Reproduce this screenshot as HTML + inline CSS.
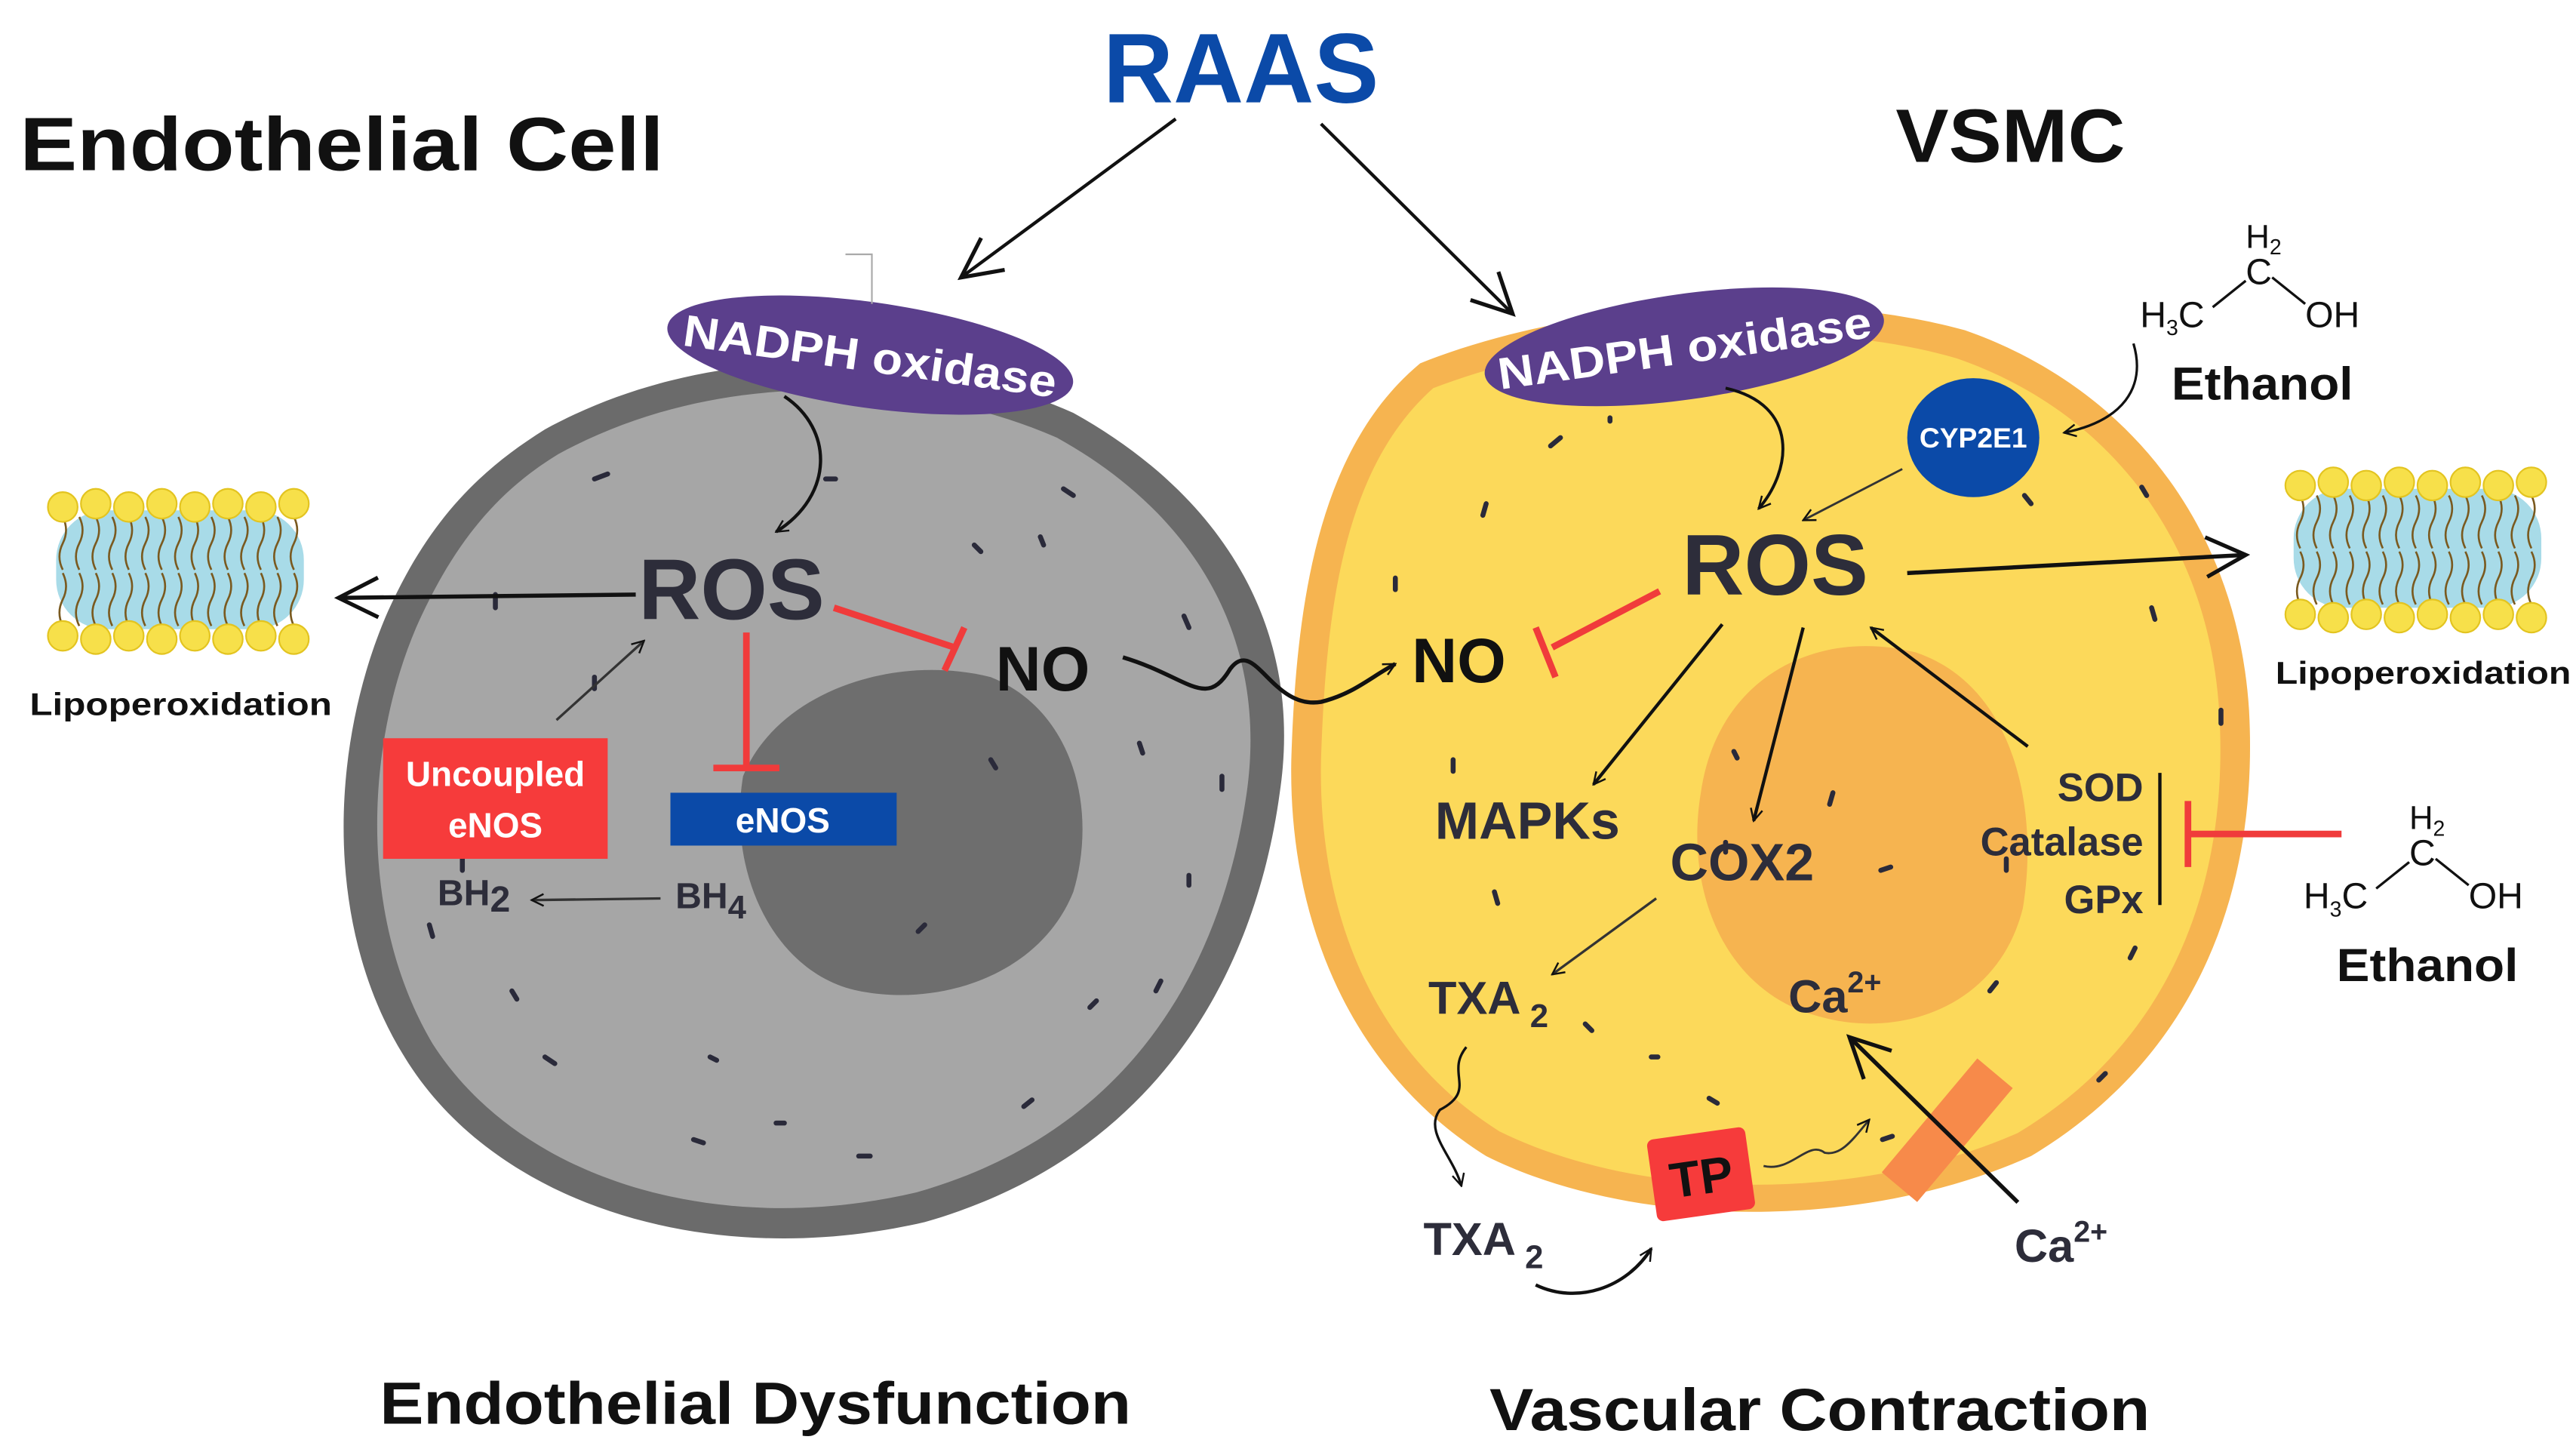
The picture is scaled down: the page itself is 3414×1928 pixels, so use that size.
<!DOCTYPE html>
<html><head><meta charset="utf-8"><style>
html,body{margin:0;padding:0;background:#fff;width:3414px;height:1928px;overflow:hidden}
svg{display:block}
text{font-family:"Liberation Sans",sans-serif;font-weight:bold}
text.n{font-weight:normal}
</style></head><body>
<svg width="3414" height="1928" viewBox="0 0 1560 881" preserveAspectRatio="none" xmlns="http://www.w3.org/2000/svg">
<defs>
<marker id="a" viewBox="0 0 20 20" refX="18" refY="10" markerWidth="9" markerHeight="9" markerUnits="userSpaceOnUse" orient="auto"><path d="M2 2 L18 10 L2 18" fill="none" stroke="#111" stroke-width="2.5"/></marker>
<marker id="b" viewBox="0 0 20 20" refX="18" refY="10" markerWidth="30" markerHeight="30" markerUnits="userSpaceOnUse" orient="auto"><path d="M2 2 L18 10 L2 18" fill="none" stroke="#111" stroke-width="1.6"/></marker>
<g id="mem">
<rect x="6" y="14" width="150" height="72" rx="30" fill="#a8dbe8"/>
<g stroke="#7a5a20" stroke-width="1.2" fill="none">
<path d="M10 18 q4 8 0 16 q-4 8 0 16 M20 18 q4 8 0 16 q-4 8 0 16 M30 18 q4 8 0 16 q-4 8 0 16 M40 18 q4 8 0 16 q-4 8 0 16 M50 18 q4 8 0 16 q-4 8 0 16 M60 18 q4 8 0 16 q-4 8 0 16 M70 18 q4 8 0 16 q-4 8 0 16 M80 18 q4 8 0 16 q-4 8 0 16 M90 18 q4 8 0 16 q-4 8 0 16 M100 18 q4 8 0 16 q-4 8 0 16 M110 18 q4 8 0 16 q-4 8 0 16 M120 18 q4 8 0 16 q-4 8 0 16 M130 18 q4 8 0 16 q-4 8 0 16 M140 18 q4 8 0 16 q-4 8 0 16 M150 18 q4 8 0 16 q-4 8 0 16"/>
<path d="M10 52 q4 8 0 16 q-4 8 0 16 M20 52 q4 8 0 16 q-4 8 0 16 M30 52 q4 8 0 16 q-4 8 0 16 M40 52 q4 8 0 16 q-4 8 0 16 M50 52 q4 8 0 16 q-4 8 0 16 M60 52 q4 8 0 16 q-4 8 0 16 M70 52 q4 8 0 16 q-4 8 0 16 M80 52 q4 8 0 16 q-4 8 0 16 M90 52 q4 8 0 16 q-4 8 0 16 M100 52 q4 8 0 16 q-4 8 0 16 M110 52 q4 8 0 16 q-4 8 0 16 M120 52 q4 8 0 16 q-4 8 0 16 M130 52 q4 8 0 16 q-4 8 0 16 M140 52 q4 8 0 16 q-4 8 0 16 M150 52 q4 8 0 16 q-4 8 0 16"/>
</g>
<g fill="#f7e04a" stroke="#e3c420" stroke-width="1">
<circle cx="10" cy="12" r="9"/><circle cx="30" cy="10" r="9"/><circle cx="50" cy="12" r="9"/><circle cx="70" cy="10" r="9"/><circle cx="90" cy="12" r="9"/><circle cx="110" cy="10" r="9"/><circle cx="130" cy="12" r="9"/><circle cx="150" cy="10" r="9"/>
<circle cx="10" cy="90" r="9"/><circle cx="30" cy="92" r="9"/><circle cx="50" cy="90" r="9"/><circle cx="70" cy="92" r="9"/><circle cx="90" cy="90" r="9"/><circle cx="110" cy="92" r="9"/><circle cx="130" cy="90" r="9"/><circle cx="150" cy="92" r="9"/>
</g></g>
<g id="eth">
<text class="n" x="0" y="58" font-size="22" fill="#111">H<tspan font-size="13" dy="5">3</tspan><tspan dy="-5">C</tspan></text>
<text class="n" x="64" y="32" font-size="22" fill="#111">C</text>
<text class="n" x="64" y="10" font-size="20" fill="#111">H<tspan font-size="13" dy="4">2</tspan></text>
<text class="n" x="100" y="58" font-size="22" fill="#111">OH</text>
<path d="M44 46 L64 30 M80 28 L100 44" stroke="#111" stroke-width="1.5"/>
</g>
</defs>

<text x="12" y="103" font-size="46" fill="#111" textLength="390" lengthAdjust="spacingAndGlyphs">Endothelial Cell</text>
<text x="668" y="62" font-size="60" fill="#0b4aa8" textLength="167" lengthAdjust="spacingAndGlyphs">RAAS</text>
<text x="1148" y="98" font-size="46" fill="#111" textLength="139" lengthAdjust="spacingAndGlyphs">VSMC</text>
<text x="230" y="862" font-size="36" fill="#111" textLength="455" lengthAdjust="spacingAndGlyphs">Endothelial Dysfunction</text>
<text x="902" y="866" font-size="36" fill="#111" textLength="400" lengthAdjust="spacingAndGlyphs">Vascular Contraction</text>

<path d="M330 260 C430 205 560 210 650 250 C740 300 790 380 775 480 C760 590 700 700 560 740 C430 770 300 730 245 640 C195 560 200 450 235 370 C260 315 290 285 330 260Z" fill="#6b6b6b"/>
<path d="M338 275 C435 222 555 228 640 265 C725 312 768 388 755 480 C740 585 685 685 555 722 C435 750 315 715 262 632 C218 558 220 455 252 380 C275 328 302 297 338 275Z" fill="#a6a6a6"/>
<path d="M450 470 C470 420 540 395 600 410 C650 430 665 490 650 540 C630 590 570 610 520 600 C470 590 440 530 450 470Z" fill="#6e6e6e"/>
<g stroke="#2a2a3a" stroke-width="3" stroke-linecap="round">
<path d="M360 290 l8 -3 M300 360 l0 8 M270 470 l0 8 M260 560 l2 7 M330 640 l6 4 M420 690 l6 2 M520 700 l7 0 M620 670 l5 -4 M700 600 l3 -6 M740 470 l0 8 M720 380 l-3 -7 M650 300 l-6 -4 M590 330 l4 4 M630 325 l2 5 M500 290 l6 0 M360 410 l0 7 M690 450 l2 6 M600 460 l3 5 M560 560 l-4 4 M430 640 l4 2 M470 680 l5 0 M660 610 l4 -4 M280 520 l0 7 M310 600 l3 5 M720 530 l0 6"/>
</g>

<path d="M860 220 C960 180 1100 175 1190 200 C1290 235 1355 320 1362 430 C1368 540 1330 640 1230 700 C1130 745 990 745 900 700 C820 650 780 560 782 460 C785 360 800 270 860 220Z" fill="#f6b450"/>
<path d="M868 235 C965 198 1100 192 1185 217 C1280 250 1338 330 1344 432 C1350 535 1315 630 1222 686 C1127 728 995 728 908 685 C833 638 798 555 800 460 C803 365 815 282 868 235Z" fill="#fcd95a"/>
<path d="M1030 480 C1040 410 1100 380 1160 395 C1220 415 1235 490 1225 550 C1210 610 1150 630 1100 615 C1045 600 1020 540 1030 480Z" fill="#f6b450"/>
<g stroke="#2a2a3a" stroke-width="3" stroke-linecap="round">
<path d="M945 265 l-6 5 M975 255 l0 -2 M900 305 l-2 7 M845 350 l0 7 M880 460 l0 7 M905 540 l2 7 M960 620 l4 4 M1035 665 l5 3 M1140 690 l6 -2 M1205 600 l4 -5 M1290 580 l3 -6 M1345 430 l0 8 M1305 375 l-2 -7 M1300 300 l-3 -5 M1230 305 l-4 -5 M1110 480 l-2 7 M1045 510 l0 6 M1215 520 l0 7 M1145 525 l-6 2 M1050 455 l2 4 M1275 650 l-4 4 M1000 640 l4 0"/>
</g>

<g transform="rotate(8 527 215)"><ellipse cx="527" cy="215" rx="124" ry="32" fill="#5b3f8c"/><text x="527" y="225" font-size="27" fill="#fff" text-anchor="middle" textLength="228" lengthAdjust="spacingAndGlyphs">NADPH oxidase</text></g>
<g transform="rotate(-8 1020 210)"><ellipse cx="1020" cy="210" rx="122" ry="32" fill="#5b3f8c"/><text x="1020" y="220" font-size="27" fill="#fff" text-anchor="middle" textLength="228" lengthAdjust="spacingAndGlyphs">NADPH oxidase</text></g>
<path d="M512 154 l16 0 l0 30" fill="none" stroke="#aaa" stroke-width="1"/>

<path d="M712 72 L582 168" stroke="#111" stroke-width="2" fill="none" marker-end="url(#b)"/>
<path d="M800 75 L916 190" stroke="#111" stroke-width="2" fill="none" marker-end="url(#b)"/>

<text x="443" y="375" font-size="52" fill="#2d2d3a" text-anchor="middle">ROS</text>
<text x="603" y="418" font-size="38" fill="#111">NO</text>
<path d="M475 240 C505 260 505 300 470 322" stroke="#111" stroke-width="2" fill="none" marker-end="url(#a)"/>
<path d="M385 360 L205 362" stroke="#111" stroke-width="2.5" fill="none" marker-end="url(#b)"/>
<path d="M505 368 L578 392 M584 380 L572 406" stroke="#f03b3b" stroke-width="4" fill="none"/>
<path d="M452 383 L452 465 M432 465 L472 465" stroke="#f03b3b" stroke-width="4" fill="none"/>
<rect x="406" y="480" width="137" height="32" fill="#0b4aa8"/>
<text x="474" y="504" font-size="21" fill="#fff" text-anchor="middle">eNOS</text>
<rect x="232" y="447" width="136" height="73" fill="#f63b3b"/>
<text x="300" y="476" font-size="21" fill="#fff" text-anchor="middle">Uncoupled</text>
<text x="300" y="507" font-size="21" fill="#fff" text-anchor="middle">eNOS</text>
<path d="M337 436 L390 388" stroke="#333" stroke-width="1.5" fill="none" marker-end="url(#a)"/>
<text x="265" y="548" font-size="22" fill="#2d2d3a">BH<tspan font-size="22" dy="4">2</tspan></text>
<text x="409" y="550" font-size="22" fill="#2d2d3a">BH<tspan font-size="20" dy="6">4</tspan></text>
<path d="M400 544 L322 545" stroke="#333" stroke-width="1.5" fill="none" marker-end="url(#a)"/>
<path d="M680 398 C720 410 730 430 745 405 C760 385 770 430 800 425 C820 420 830 410 845 402" stroke="#111" stroke-width="2.5" fill="none" marker-end="url(#a)"/>

<use href="#mem" x="28" y="295"/>
<text x="18" y="433" font-size="19" fill="#111" textLength="183" lengthAdjust="spacingAndGlyphs">Lipoperoxidation</text>
<use href="#mem" x="1383" y="282"/>
<text x="1378" y="414" font-size="19" fill="#111" textLength="179" lengthAdjust="spacingAndGlyphs">Lipoperoxidation</text>

<text x="1075" y="360" font-size="52" fill="#2d2d3a" text-anchor="middle">ROS</text>
<text x="855" y="413" font-size="38" fill="#111">NO</text>
<path d="M1005 358 L940 392 M930 380 L942 410" stroke="#f03b3b" stroke-width="4" fill="none"/>
<ellipse cx="1195" cy="265" rx="40" ry="36" fill="#0b4aa8"/>
<text x="1195" y="271" font-size="17" fill="#fff" text-anchor="middle">CYP2E1</text>
<path d="M1045 235 C1090 245 1085 285 1065 308" stroke="#111" stroke-width="1.8" fill="none" marker-end="url(#a)"/>
<path d="M1152 284 L1092 315" stroke="#333" stroke-width="1.3" fill="none" marker-end="url(#a)"/>
<path d="M1292 208 C1300 235 1285 255 1250 262" stroke="#111" stroke-width="1.5" fill="none" marker-end="url(#a)"/>
<path d="M1155 347 L1360 336" stroke="#111" stroke-width="2.5" fill="none" marker-end="url(#b)"/>
<path d="M1043 378 L965 475" stroke="#111" stroke-width="2" fill="none" marker-end="url(#a)"/>
<path d="M1092 380 L1062 497" stroke="#111" stroke-width="2" fill="none" marker-end="url(#a)"/>
<path d="M1228 452 L1133 380" stroke="#111" stroke-width="2" fill="none" marker-end="url(#a)"/>
<text x="925" y="508" font-size="32" fill="#2d2d3a" text-anchor="middle">MAPKs</text>
<text x="1055" y="533" font-size="32" fill="#2d2d3a" text-anchor="middle">COX2</text>
<text x="1298" y="485" font-size="24" fill="#2d2d3a" text-anchor="end">SOD</text>
<text x="1298" y="518" font-size="24" fill="#2d2d3a" text-anchor="end">Catalase</text>
<text x="1298" y="553" font-size="24" fill="#2d2d3a" text-anchor="end">GPx</text>
<path d="M1308 468 L1308 548" stroke="#111" stroke-width="2"/>
<path d="M1418 505 L1325 505 M1325 485 L1325 525" stroke="#f03b3b" stroke-width="4" fill="none"/>
<path d="M1003 544 L940 590" stroke="#333" stroke-width="1.5" fill="none" marker-end="url(#a)"/>
<text x="865" y="614" font-size="28" fill="#2d2d3a">TXA<tspan font-size="20" dy="8"> 2</tspan></text>
<text x="1083" y="613" font-size="28" fill="#2d2d3a">Ca<tspan font-size="18" dy="-12">2+</tspan></text>
<path d="M888 634 C875 650 895 660 872 672 C862 685 880 700 885 718" stroke="#111" stroke-width="1.5" fill="none" marker-end="url(#a)"/>
<text x="862" y="760" font-size="28" fill="#2d2d3a">TXA<tspan font-size="20" dy="8"> 2</tspan></text>
<text x="1220" y="764" font-size="28" fill="#2d2d3a">Ca<tspan font-size="18" dy="-12">2+</tspan></text>
<path d="M930 778 C955 790 985 780 1000 756" stroke="#111" stroke-width="2" fill="none" marker-end="url(#a)"/>
<g transform="rotate(-8 1030 710)"><rect x="1000" y="686" width="60" height="50" rx="4" fill="#f63b3b"/><text x="1030" y="723" font-size="30" fill="#111" text-anchor="middle">TP</text></g>
<g transform="rotate(40 1180 685)"><rect x="1165" y="640" width="28" height="90" fill="#f78a4a"/></g>
<path d="M1068 706 C1085 710 1095 690 1105 698 C1115 700 1122 690 1132 678" stroke="#333" stroke-width="1.3" fill="none" marker-end="url(#a)"/>
<path d="M1222 728 L1120 628" stroke="#111" stroke-width="2.5" fill="none" marker-end="url(#b)"/>

<use href="#eth" x="1296" y="140"/>
<text x="1315" y="242" font-size="28" fill="#111" textLength="110" lengthAdjust="spacingAndGlyphs">Ethanol</text>
<use href="#eth" x="1395" y="492"/>
<text x="1415" y="594" font-size="28" fill="#111" textLength="110" lengthAdjust="spacingAndGlyphs">Ethanol</text>
</svg>
</body></html>
